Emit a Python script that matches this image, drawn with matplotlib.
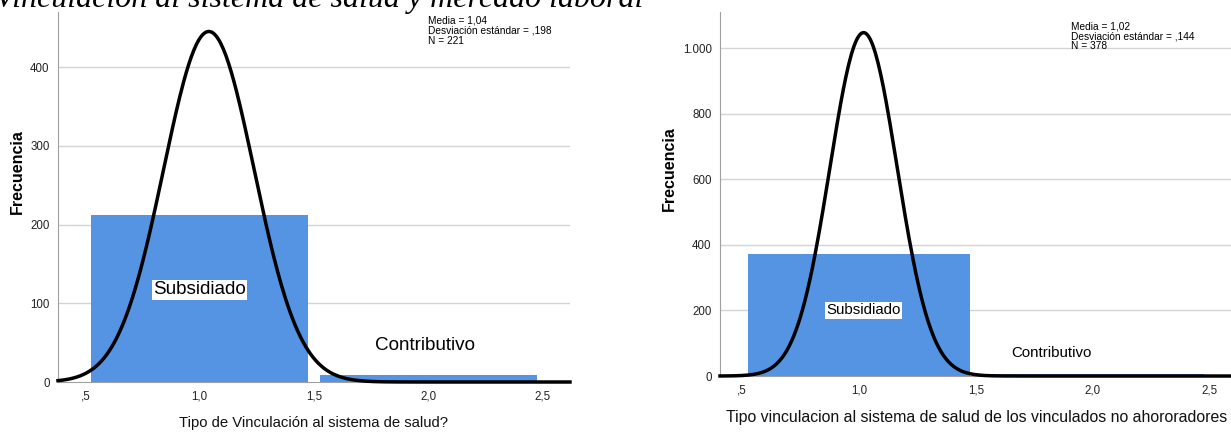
import matplotlib.pyplot as plt
import numpy as np

plt.rcParams['font.family'] = ['Liberation Sans', 'DejaVu Sans']

# Data
categories = ['Subsidiado', 'Contributivo']
bin_centers = [1.0, 2.0]
counts_left = [212, 9]
counts_right = [371, 7]
stats_left = {'media': 1.04, 'sd': 0.198, 'n': 221}
stats_right = {'media': 1.02, 'sd': 0.144, 'n': 378}
xticks = [0.5, 1.0, 1.5, 2.0, 2.5]
xtick_labels = [',5', '1,0', '1,5', '2,0', '2,5']
yticks_left = [0, 100, 200, 300, 400]
yticks_right = [0, 200, 400, 600, 800, 1000]
ytick_labels_right = ['0', '200', '400', '600', '800', '1.000']

BAR_COLOR = '#5593e3'
GRID = '#d4d4d4'
SPINE = '#a0a0a0'


def fmt_dec(v, nd):
    s = f'{v:.{nd}f}'.replace('.', ',')
    if s.startswith('0,'):
        s = s[1:]
    return s


def histo(ax, counts, stats, xlim, ylim, yticks, ytick_labels, xlabel,
          xlabel_size, lab_pos, lab_size, ylab_x):
    ax.set_xlim(xlim)
    ax.set_ylim(ylim)
    for y in yticks[1:]:
        ax.axhline(y, color=GRID, lw=1, zorder=0)
    ax.bar(bin_centers, counts, width=0.95, color=BAR_COLOR, zorder=1)
    # normal curve
    xs = np.linspace(xlim[0], xlim[1], 400)
    m, s, n = stats['media'], stats['sd'], stats['n']
    ys = n * 1.0 / (s * np.sqrt(2 * np.pi)) * np.exp(-0.5 * ((xs - m) / s) ** 2)
    ax.plot(xs, ys, color='black', lw=2.5, zorder=3, clip_on=False)

    ax.set_xticks(xticks)
    ax.set_xticklabels(xtick_labels)
    ax.set_yticks(yticks)
    ax.set_yticklabels(ytick_labels)
    ax.tick_params(length=0, labelsize=8.3, colors='#222222', pad=6)
    for side in ['top', 'right']:
        ax.spines[side].set_visible(False)
    ax.spines['left'].set_color(SPINE)
    ax.spines['bottom'].set_color(SPINE)
    ax.set_ylabel('Frecuencia', fontsize=11.5, fontweight='bold')
    ax.yaxis.set_label_coords(ylab_x, 0.57)
    ax.set_xlabel(xlabel, fontsize=xlabel_size, labelpad=10, color='#111111')

    # category labels
    (x1, y1), (x2, y2) = lab_pos
    ax.text(x1, y1, categories[0], fontsize=lab_size[0], ha='center',
            va='center', zorder=4,
            bbox=dict(facecolor='white', edgecolor='none', pad=1))
    ax.text(x2, y2, categories[1], fontsize=lab_size[1], ha='center',
            va='center', zorder=4)

    info = (f"Media = {fmt_dec(m, 2)}\n"
            f"Desviación estándar = {fmt_dec(s, 3)}\nN = {n}")
    return info


fig = plt.figure(figsize=(12.31, 4.34), dpi=100)

ax1 = fig.add_axes([0.0471, 0.1198, 0.4159, 0.8525])
info1 = histo(ax1, counts_left, stats_left, (0.38, 2.62), (0, 470),
              yticks_left, [str(v) for v in yticks_left],
              'Tipo de Vinculación al sistema de salud?', 10.7,
              [(1.0, 117), (1.985, 47)], (13.6, 13.6), -0.064)
ax1.text(0.722, 0.99, info1, transform=ax1.transAxes, fontsize=7.3,
         va='top', ha='left', linespacing=1.0)

ax2 = fig.add_axes([0.5849, 0.1336, 0.4167, 0.8387])
info2 = histo(ax2, counts_right, stats_right, (0.406, 2.6), (0, 1110),
              yticks_right, ytick_labels_right,
              'Tipo vinculacion al sistema de salud de los vinculados no ahororadores',
              11.4, [(1.02, 200), (1.825, 70)], (10.8, 10.8), -0.084)
ax2.text(0.685, 0.975, info2, transform=ax2.transAxes, fontsize=7.3,
         va='top', ha='left', linespacing=1.0)

# title cut off at the top of the picture
fig.text(-0.004, 1 - 7 / 434, 'Vinculación al sistema de salud y mercado laboral',
         fontsize=23, family='Liberation Serif', style='italic',
         va='baseline', ha='left')

fig.savefig('out.png', dpi=100)
